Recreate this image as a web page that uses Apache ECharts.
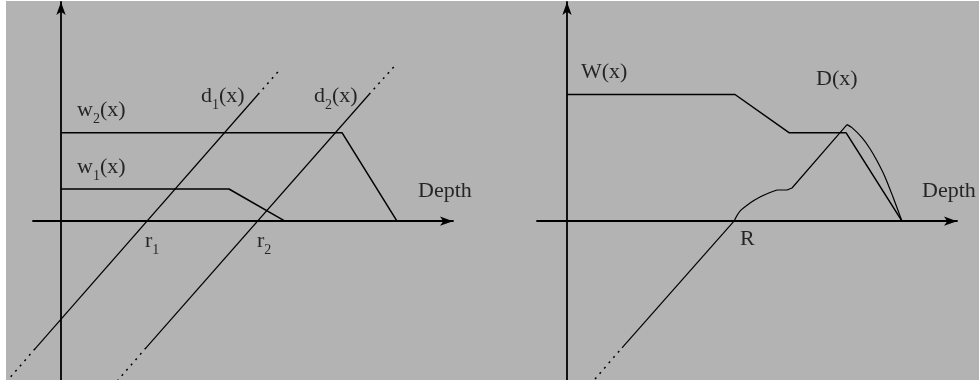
<!DOCTYPE html>
<html>
<head>
<meta charset="utf-8">
<script src="https://cdn.jsdelivr.net/npm/echarts@6/dist/echarts.min.js"></script>
<style>
  html, body { margin: 0; padding: 0; background: #ffffff; }
  #wrap { width: 979px; height: 380px; position: relative; background: #ffffff; }
  #chart { position: absolute; left: 6px; top: 1px; width: 973px; height: 379px; }
</style>
</head>
<body>
<div id="wrap"><div id="chart"></div></div>
<script>
// ---- Left panel: per-request windows w1, w2 and deadlines d1, d2 against depth ----
const w2Line = [[0, 8.8], [28.1, 8.8], [33.6, 0]];
const w1Line = [[0, 3.2], [16.8, 3.2], [22.4, 0]];
const d1Solid = [[-2.6, -12.7], [19.7, 12.6]];
const d1DotHigh = [[19.7, 12.6], [22.0, 15.2]];
const d1DotLow = [[-2.6, -12.7], [-5.4, -15.9]];
const d2Solid = [[8.5, -12.6], [30.8, 12.6]];
const d2DotHigh = [[30.8, 12.6], [33.6, 15.7]];
const d2DotLow = [[8.5, -12.6], [5.7, -15.8]];
const leftLabels = [
  [1.6, 11.0, '{m|w}{s|2}{m|(x)}'],
  [1.6, 5.4, '{m|w}{s|1}{m|(x)}'],
  [14.0, 12.4, '{m|d}{s|1}{m|(x)}'],
  [25.3, 12.4, '{m|d}{s|2}{m|(x)}'],
  [35.7, 3.0, '{m|Depth}'],
  [8.4, -2.0, '{m|r}{s|1}'],
  [19.6, -2.0, '{m|r}{s|2}']
];

// ---- Right panel: combined window W and deadline D ----
const bigW = [[0, 12.6], [16.8, 12.6], [22.2, 8.8], [27.9, 8.8], [33.5, 0]];
const dDotLow = [[2.8, -15.7], [5.5, -12.6]];
const dRise = [[5.5, -12.6], [16.7, 0]];
const dKnee = [[16.7, 0], [17.3, 1.0], [18.3, 1.8], [19.3, 2.4], [20.3, 2.85], [21.0, 3.1]];
const dClimb = [[21.0, 3.1], [22.0, 3.1], [22.5, 3.3], [28.0, 9.6]];
const dFall = [[28.0, 9.6], [28.5, 9.3], [29.5, 8.3], [30.3, 7.2], [31.0, 6.0], [31.8, 4.4], [32.6, 2.4], [33.5, 0]];
const rightLabels = [
  [1.4, 14.8, '{m|W(x)}'],
  [24.9, 14.1, '{m|D(x)}'],
  [35.5, 3.0, '{m|Depth}'],
  [17.3, -1.8, '{m|R}']
];

const INK = '#000000';
const SERIF = '"Liberation Serif", "DejaVu Serif", serif';
const Y_MIN = -15.8, Y_MAX = 21.8;

function axisPair(idx, xMin, xMax, visible) {
  const common = {
    type: 'value', gridIndex: idx, show: visible,
    axisTick: { show: false }, axisLabel: { show: false }, splitLine: { show: false },
    axisLine: { show: visible, onZero: true, symbol: ['none', 'arrow'], symbolSize: [7, 13],
      lineStyle: { color: INK, width: 1.8 } }
  };
  return {
    x: Object.assign({}, common, { min: xMin, max: xMax }),
    y: Object.assign({}, common, { min: Y_MIN, max: Y_MAX })
  };
}

const L = axisPair(0, -2.8, 39.2, true);
const R = axisPair(1, -3.0, 39.0, true);
// hidden companion axes for the left panel, reaching out to the page edge
const LW = axisPair(2, -5.5, 39.2, false);

function line(idx, data, opts) {
  opts = opts || {};
  return {
    type: 'line', xAxisIndex: idx, yAxisIndex: idx, data: data,
    showSymbol: false, symbol: 'none', silent: true, clip: false,
    smooth: opts.smooth || false,
    lineStyle: { color: INK, width: opts.width || 1.2, type: opts.dotted ? [2, 5] : 'solid' },
    z: 3
  };
}

function labels(idx, data) {
  return {
    type: 'scatter', xAxisIndex: idx, yAxisIndex: idx, data: data,
    symbolSize: 0, silent: true, z: 5,
    label: {
      show: true, position: 'right', distance: 0,
      formatter: p => p.data[2],
      rich: {
        m: { fontFamily: SERIF, fontSize: 22, color: INK, lineHeight: 32 },
        s: { fontFamily: SERIF, fontSize: 14, color: INK, lineHeight: 15, verticalAlign: 'bottom' }
      }
    }
  };
}

const chart = echarts.init(document.getElementById('chart'), null, { renderer: 'canvas' });
chart.setOption({
  animation: false,
  backgroundColor: '#b3b3b3',
  grid: [
    { left: 27, top: 1, width: 420, height: 378 },
    { left: 531, top: 1, width: 420, height: 378 },
    { left: 0, top: 1, width: 447, height: 378 }
  ],
  xAxis: [L.x, R.x, LW.x],
  yAxis: [L.y, R.y, LW.y],
  series: [
    line(0, w2Line, { width: 1.5 }),
    line(0, w1Line, { width: 1.5 }),
    line(0, d1Solid),
    line(0, d1DotHigh, { dotted: true, width: 1.5 }),
    line(2, d1DotLow, { dotted: true, width: 1.5 }),
    line(0, d2Solid),
    line(0, d2DotHigh, { dotted: true, width: 1.5 }),
    line(0, d2DotLow, { dotted: true, width: 1.5 }),
    labels(0, leftLabels),
    line(1, bigW, { width: 1.5 }),
    line(1, dDotLow, { dotted: true, width: 1.5 }),
    line(1, dRise),
    line(1, dKnee, { smooth: 0.3 }),
    line(1, dClimb),
    line(1, dFall, { smooth: 0.3 }),
    labels(1, rightLabels)
  ]
});
</script>
</body>
</html>
